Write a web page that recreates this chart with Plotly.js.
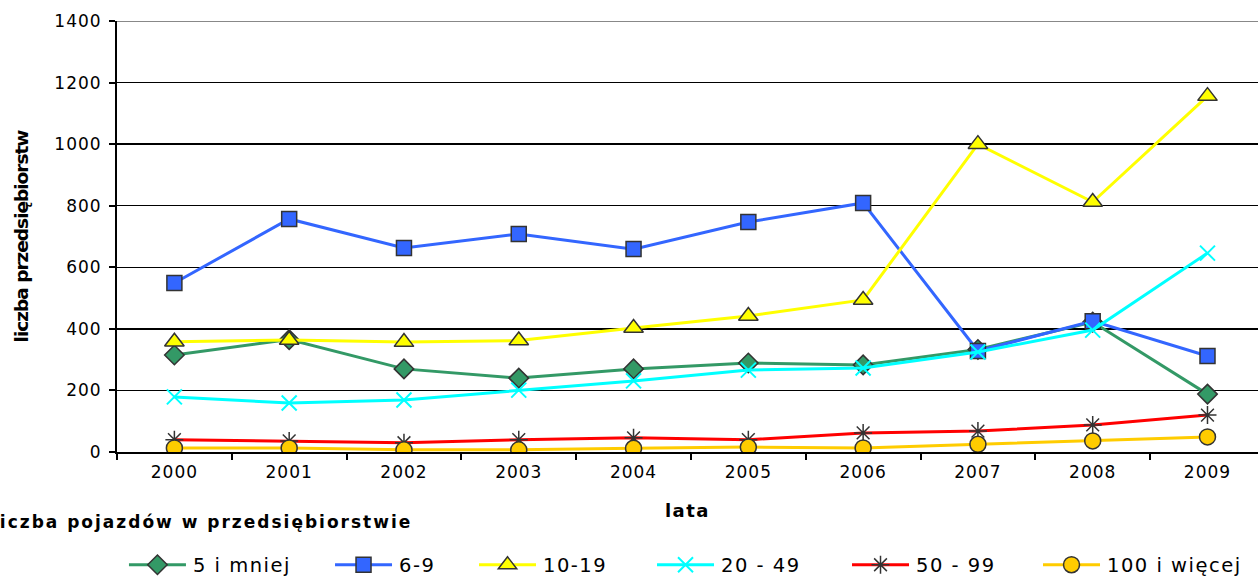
<!DOCTYPE html>
<html>
<head>
<meta charset="utf-8">
<script src="https://cdn.plot.ly/plotly-3.0.1.min.js"></script>
<style>
html,body{margin:0;padding:0;background:#fff;}
#chart{width:1258px;height:576px;}
.xtick text, .ytick text{letter-spacing:1px;}
.legendtext, .legend2text, .legend3text, .legend4text, .legend5text, .legend6text{letter-spacing:1.5px;}
.xtitle{letter-spacing:1.5px;}
.ytitle{letter-spacing:-1px;}
.annotation-text{letter-spacing:2px;}
/* longer legend sample lines, as in the original */
#chart .legendlines path{d:path("M5,0h57");}
#chart .legendsymbols path.scatterpts{transform:translate(33.5px,0px);}
#chart text.legendtext, #chart text.legend2text, #chart text.legend3text,
#chart text.legend4text, #chart text.legend5text, #chart text.legend6text{transform:translate(29px,0px);}
</style>
</head>
<body>
<div id="chart"></div>
<script>
const years = ["2000","2001","2002","2003","2004","2005","2006","2007","2008","2009"];
const s5iMniej = [315, 365, 270, 240, 270, 289, 283, 333, 422, 188];
const s6_9 = [549, 757, 663, 708, 659, 747, 809, 328, 425, 312];
const s10_19 = [358, 364, 357, 362, 403, 442, 494, 1000, 812, 1156];
const s20_49 = [179, 159, 169, 201, 231, 266, 273, 325, 396, 646];
const s50_99 = [40, 36, 30, 40, 46, 40, 62, 68, 88, 120];
const s100 = [13, 13, 7, 7, 12, 16, 13, 25, 36, 49];
const seriesNames = ["5 i mniej", "6-9", "10-19", "20 - 49", "50 - 99", "100 i więcej"];
const legendTitle = "liczba pojazdów w przedsiębiorstwie";

const outline = "#333333";
const legendIds = ["legend", "legend2", "legend3", "legend4", "legend5", "legend6"];
const traces = [
  {y: s5iMniej, name: seriesNames[0], line: {color: "#339966", width: 3},
   marker: {symbol: "diamond", size: 15, color: "#339966", line: {color: outline, width: 1.5}}},
  {y: s6_9, name: seriesNames[1], line: {color: "#3366FF", width: 3},
   marker: {symbol: "square", size: 15, color: "#3366FF", line: {color: outline, width: 1.5}}},
  {y: s10_19, name: seriesNames[2], line: {color: "#FFFF00", width: 3},
   marker: {symbol: "triangle-up", size: 17, color: "#FFFF00", line: {color: outline, width: 1.5}}},
  {y: s20_49, name: seriesNames[3], line: {color: "#00FFFF", width: 3},
   marker: {symbol: "x-thin-open", size: 15, color: "#00FFFF", line: {color: "#00FFFF", width: 2}}},
  {y: s50_99, name: seriesNames[4], line: {color: "#FF0000", width: 3},
   marker: {symbol: "asterisk-open", size: 15, color: outline, line: {color: outline, width: 1.5}}},
  {y: s100, name: seriesNames[5], line: {color: "#FFCC00", width: 3},
   marker: {symbol: "circle", size: 16, color: "#FFCC00", line: {color: outline, width: 1.5}}}
].map((t, i) => Object.assign({x: years, type: "scatter", mode: "lines+markers", legend: legendIds[i]}, t));

// legend entry left positions (paper fraction)
const legendX = [0.0061, 0.1867, 0.3129, 0.4689, 0.6398, 0.8072];

const layout = {
  width: 1258, height: 576,
  margin: {l: 117, r: 0, t: 21, b: 124, autoexpand: false},
  paper_bgcolor: "#fff", plot_bgcolor: "#fff",
  font: {family: "DejaVu Sans, Liberation Sans, sans-serif", color: "#000", size: 17},
  showlegend: true,
  xaxis: {
    type: "category", range: [-0.5, 9.44],
    showline: true, linecolor: "#000", linewidth: 2,
    showgrid: false, zeroline: false,
    ticks: "outside", tickson: "boundaries", ticklen: 6, tickcolor: "#000", tickwidth: 2,
    ticklabelstandoff: 4,
    tickfont: {size: 17},
    title: {text: "<b>lata</b>", font: {size: 18}, standoff: 23}
  },
  yaxis: {
    range: [0, 1400], dtick: 200,
    showline: true, linecolor: "#000", linewidth: 2,
    showgrid: true, gridcolor: "#000", gridwidth: 1.5,
    zeroline: false,
    ticks: "outside", ticklen: 6, tickcolor: "#000", tickwidth: 2,
    ticklabelstandoff: 4,
    tickfont: {size: 17},
    title: {text: "<b>liczba przedsiębiorstw</b>", font: {size: 18.5}, standoff: 21}
  },
  shapes: [
    {type: "line", xref: "paper", yref: "y", x0: 0, x1: 1, y0: 1400, y1: 1400, line: {color: "#888", width: 2}}
  ],
  annotations: [
    {text: "<b>" + legendTitle + "</b>", xref: "paper", yref: "paper",
     x: -0.111, y: -0.162, xanchor: "left", yanchor: "middle", showarrow: false,
     font: {size: 17}}
  ]
};
legendIds.forEach((id, i) => {
  layout[id] = {
    orientation: "h", xref: "paper", yref: "container", x: legendX[i], y: 0.019,
    xanchor: "left", yanchor: "middle", bgcolor: "rgba(0,0,0,0)",
    font: {size: 19.5}, itemwidth: 30, entrywidth: (i === 5 ? 200 : 170), entrywidthmode: "pixels"
  };
});

Plotly.newPlot("chart", traces, layout, {displayModeBar: false, staticPlot: true});
</script>
</body>
</html>
